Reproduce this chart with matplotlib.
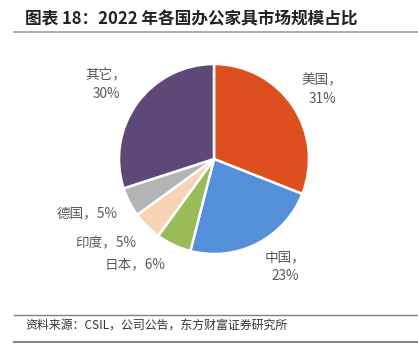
import matplotlib
matplotlib.use("Agg")
import matplotlib.pyplot as plt

plt.rcParams['font.family'] = ['Noto Sans CJK SC', 'DejaVu Sans']

countries = ["美国", "中国", "日本", "印度", "德国", "其它"]
shares    = [31, 23, 6, 5, 5, 30]
colors    = ["#DD4F1E", "#5390D9", "#9BBB59", "#F9D3B5", "#B4B4B4", "#5E4878"]

# label anchor positions (pixels from top-left) and text
label_pos = [(322, 90), (285, 267), (135, 264), (106, 243), (87, 213), (106, 85)]
label_txt = ["美国，\n31%", "中国，\n23%", "日本，6%", "印度，5%", "德国，5%", "其它，\n30%"]

W, H = 418, 346
fig = plt.figure(figsize=(W / 100, H / 100), dpi=100)
ax = fig.add_axes([0, 0, 1, 1])

ax.pie(shares, colors=colors, startangle=90, counterclock=False,
       center=(214, H - 159), radius=95, frame=True,
       wedgeprops=dict(edgecolor="white", linewidth=1.8))
ax.set_xlim(0, W)
ax.set_ylim(0, H)
ax.set_aspect("auto")
ax.axis("off")

for (x, y), t in zip(label_pos, label_txt):
    ax.text(x, H - y, t, ha="center", va="center", fontsize=9.8,
            color="#595959", linespacing=1.45)

# title and rules
fig.text(25 / W, 1 - 19 / H, "图表 18：2022 年各国办公家具市场规模占比",
         fontsize=12, fontweight="bold", color="#222222", va="center")
ax.plot([14, W], [H - 32, H - 32], color="#A0A0A0", linewidth=1.2)
ax.plot([14, W], [H - 315, H - 315], color="#808080", linewidth=1.0)
ax.plot([14, W], [H - 342, H - 342], color="#808080", linewidth=1.4)
fig.text(25 / W, 1 - 325 / H, "资料来源：CSIL，公司公告，东方财富证券研究所",
         fontsize=8.6, color="#333333", va="center")

fig.savefig("out.png", dpi=100)
